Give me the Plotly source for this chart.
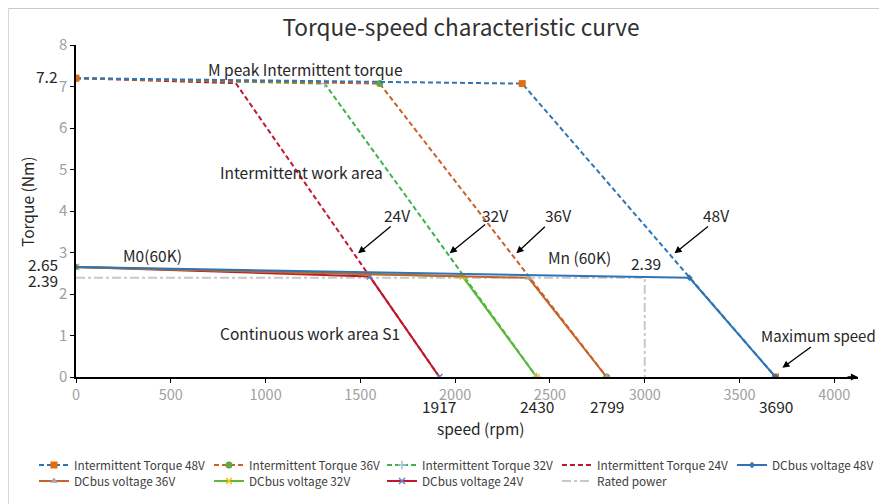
import plotly.graph_objects as go

# ---------------- data ----------------
int_names = ["Intermittent Torque 48V", "Intermittent Torque 36V",
             "Intermittent Torque 32V", "Intermittent Torque 24V"]
int_speed_48 = [0, 2354, 3690]
int_torque_48 = [7.2, 7.07, 0]
int_speed_36 = [0, 1602, 2799]
int_torque_36 = [7.2, 7.07, 0]
int_speed_32 = [0, 1312, 2430]
int_torque_32 = [7.2, 7.07, 0]
int_speed_24 = [0, 843, 1917]
int_torque_24 = [7.2, 7.08, 0]

dc_names = ["DCbus voltage 48V", "DCbus voltage 36V",
            "DCbus voltage 32V", "DCbus voltage 24V"]
dc_speed_48 = [0, 3236, 3690]
dc_torque_48 = [2.65, 2.39, 0]
dc_speed_36 = [0, 2387, 2799]
dc_torque_36 = [2.65, 2.39, 0]
dc_speed_32 = [0, 2040, 2430]
dc_torque_32 = [2.65, 2.42, 0]
dc_speed_24 = [0, 1550, 1917]
dc_torque_24 = [2.65, 2.42, 0]

rated_speed = [0, 3000, 3000]
rated_torque = [2.39, 2.39, 0]

x_ticks = [0, 500, 1000, 1500, 2000, 2500, 3000, 3500, 4000]
y_ticks = [0, 1, 2, 3, 4, 5, 6, 7, 8]
max_speed_labels = [1917, 2430, 2799, 3690]
left_labels = [("7.2", 7.25), ("2.65", 2.72), ("2.39", 2.34)]

# ---------------- style ----------------
FONT = "Noto Sans CJK SC"
TXT = "#262626"
BLUE = "#2e75b6"
ORANGE = "#c8612a"
GREEN = "#3cb44b"
RED = "#c0182f"
ANN_SIZE = 15.5
DASH = "5px,3px"

OFF = 8                      # page body margin in the screenshot
W, H = 887 - OFF, 504 - OFF  # figure size
L, T = 76 - OFF, 45 - OFF
R = W - (858 - OFF)
B = H - (377 - OFF)
PW, PH = W - L - R, H - T - B


def s2paper(sx, sy):
    fx, fy = sx - OFF, sy - OFF
    return (fx - L) / PW, (H - B - fy) / PH


def s2cont(sx, sy):
    return (sx - OFF) / W, 1 - (sy - OFF) / H


fig = go.Figure()


def add(xs, ys, name, color, dash, marker, legend):
    fig.add_trace(go.Scatter(
        x=xs, y=ys, name=name, mode="lines+markers" if marker else "lines",
        line=dict(color=color, width=2, dash=dash),
        marker=marker or {}, legend=legend, showlegend=True))


# draw order (bottom -> top)
add(rated_speed, rated_torque, "Rated power", "#c8c8c8", "dashdot", None, "legend9")
add(int_speed_24, int_torque_24, int_names[3], RED, DASH, None, "legend4")
add(int_speed_32, int_torque_32, int_names[2], GREEN, DASH,
    dict(symbol="cross-thin-open", size=6, color="#9dc3e6", line=dict(width=1.5, color="#9dc3e6")), "legend3")
add(int_speed_36, int_torque_36, int_names[1], ORANGE, DASH,
    dict(symbol="circle", size=7, color="#5fab3f"), "legend2")
add(int_speed_48, int_torque_48, int_names[0], BLUE, DASH,
    dict(symbol="square", size=7, color="#e46c0a"), "legend")
add(dc_speed_24, dc_torque_24, dc_names[3], RED, None,
    dict(symbol="x-thin-open", size=6, color="#6f7fc0", line=dict(width=1.5, color="#6f7fc0")), "legend8")
add(dc_speed_32, dc_torque_32, dc_names[2], "#5cb83a", None,
    dict(symbol="x-thin-open", size=6, color="#ffc000", line=dict(width=1.5, color="#ffc000")), "legend7")
add(dc_speed_36, dc_torque_36, dc_names[1], ORANGE, None,
    dict(symbol="triangle-up", size=7, color="#a5a5a5"), "legend6")
add(dc_speed_48, dc_torque_48, dc_names[0], BLUE, None,
    dict(symbol="diamond", size=5, color=BLUE), "legend5")

# legends, each single-entry, placed in two rows like the reference
col_x = [34, 209, 382, 557, 732]
row_y = [465, 481]
legend_pos = {
    "legend": (col_x[0], row_y[0]), "legend2": (col_x[1], row_y[0]),
    "legend3": (col_x[2], row_y[0]), "legend4": (col_x[3], row_y[0]),
    "legend5": (col_x[4], row_y[0]), "legend6": (col_x[0], row_y[1]),
    "legend7": (col_x[1], row_y[1]), "legend8": (col_x[2], row_y[1]),
    "legend9": (col_x[3], row_y[1]),
}
leg_layout = {}
for key, (px, py) in legend_pos.items():
    cx, cy = s2cont(px, py)
    leg_layout[key] = dict(
        x=cx, y=cy, xref="container", yref="container",
        xanchor="left", yanchor="middle", orientation="h",
        bgcolor="rgba(0,0,0,0)", borderwidth=0,
        font=dict(family=FONT, size=11.8, color="#404040"),
        itemwidth=30, tracegroupgap=0)

ann = []


def txt(x, y, s, size=ANN_SIZE, **kw):
    d = dict(x=x, y=y, xref="x", yref="y", text=s, showarrow=False,
             font=dict(family=FONT, size=size, color=TXT))
    d.update(kw)
    ann.append(d)


txt(1212, 7.42, "M peak Intermittent torque")
txt(1191, 4.94, "Intermittent work area")
txt(1232, 1.06, "Continuous work area S1")
txt(406, 2.94, "M0(60K)")
txt(2656, 2.9, "Mn (60K)")
txt(3009, 2.75, "2.39")
txt(3915, 1.01, "Maximum speed", size=15)
for s, xv in [("24V", 1692), ("32V", 2208), ("36V", 2540), ("48V", 3378)]:
    txt(xv, 3.9, s)
for lab, yv in left_labels:
    txt(0, yv, lab, xanchor="right", xshift=-16)
for v in max_speed_labels:
    txt(v, 0, str(v), yshift=-29)

# arrows (head at x,y; tail offset ax, ay in px)
for hx, hy, axp, ayp in [(1488, 2.98, 34, -28), (1971, 2.98, 37, -30),
                         (2323, 2.98, 30, -28), (3157, 2.98, 35, -28),
                         (3726, 0.22, 30, -22)]:
    ann.append(dict(x=hx, y=hy, xref="x", yref="y", ax=axp, ay=ayp, text="",
                    showarrow=True, arrowhead=2, arrowsize=1.1, arrowwidth=1.3,
                    arrowcolor="#000000"))

# x-axis arrow head
ann.append(dict(x=4125, y=0, xref="x", yref="y", ax=-12, ay=0, text="",
                showarrow=True, arrowhead=2, arrowsize=1.1, arrowwidth=1.3,
                arrowcolor="#000000"))

# axis titles
sx, sy = s2paper(481, 428)
ann.append(dict(x=sx, y=sy, xref="paper", yref="paper", xanchor="center", yanchor="middle",
                text="speed (rpm)", showarrow=False,
                font=dict(family=FONT, size=ANN_SIZE, color=TXT)))
tx, ty = s2paper(27, 202)
ann.append(dict(x=tx, y=ty, xref="paper", yref="paper", xanchor="center", yanchor="middle",
                text="Torque (Nm)", showarrow=False, textangle=-90,
                font=dict(family=FONT, size=ANN_SIZE, color=TXT)))

# light frame at the top and left edges of the chart
fx0, fy0 = s2paper(OFF, OFF)
fx1, fy1 = s2paper(887, 504)
shapes = [
    dict(type="line", xref="paper", yref="paper", x0=fx0, x1=fx1, y0=fy0, y1=fy0,
         line=dict(color="#c8c8c8", width=2)),
    dict(type="line", xref="paper", yref="paper", x0=fx0, x1=fx0, y0=fy0, y1=fy1,
         line=dict(color="#d8d8d8", width=2)),
]

tcx, tcy = s2cont(461, 28)
fig.update_layout(
    width=W, height=H,
    margin=dict(l=L, r=R, t=T, b=B),
    paper_bgcolor="white", plot_bgcolor="white",
    title=dict(text="Torque-speed characteristic curve", x=tcx, xanchor="center",
               y=tcy, yanchor="middle", yref="container", xref="container",
               font=dict(family=FONT, size=22.6, color="#303030")),
    xaxis=dict(range=[0, 4125], tickvals=x_ticks, showgrid=False, zeroline=False,
               showline=True, linecolor="#000000", linewidth=1.5,
               ticks="outside", ticklen=4, tickcolor="#000000",
               tickfont=dict(family=FONT, size=14.5, color="#a0a0a0")),
    yaxis=dict(range=[0, 8], tickvals=y_ticks, showgrid=False, zeroline=False,
               showline=True, linecolor="#000000", linewidth=1.5,
               ticks="outside", ticklen=4, tickcolor="#000000",
               tickfont=dict(family=FONT, size=15, color="#a0a0a0")),
    annotations=ann, shapes=shapes,
    **leg_layout,
)

fig.write_html("out.html")
